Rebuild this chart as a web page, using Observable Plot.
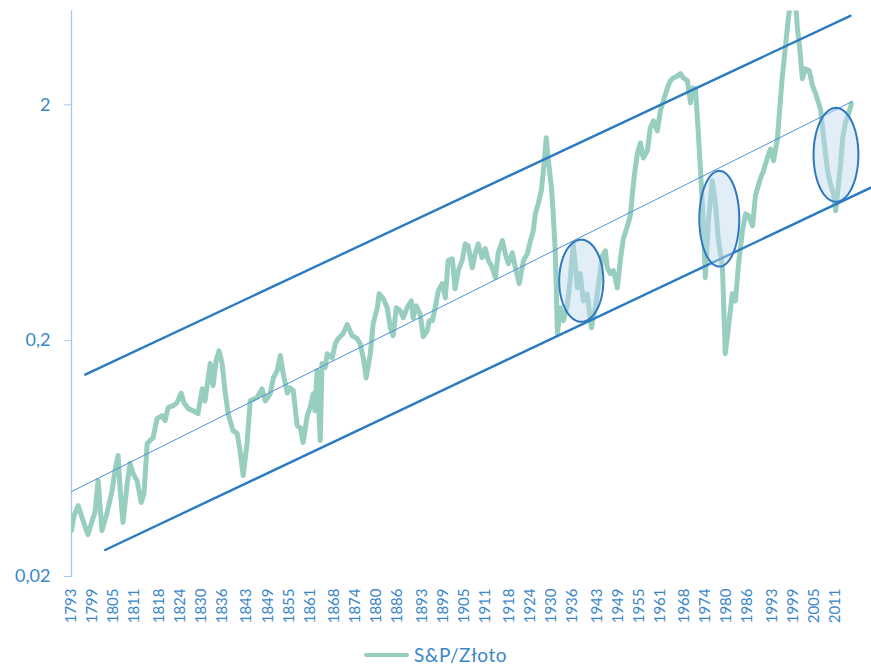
<!DOCTYPE html>
<html>
<head>
<meta charset="utf-8">
<script src="https://cdn.jsdelivr.net/npm/d3@7"></script>
<script src="https://cdn.jsdelivr.net/npm/@observablehq/plot@0.6"></script>
<style>
  html, body { margin: 0; padding: 0; background: #fff; }
  body { width: 871px; height: 667px; overflow: hidden; font-family: Lato, "Noto Sans", sans-serif; }
  #legend { height: 27px; display: flex; justify-content: center; align-items: center; padding-top: 3px; box-sizing: border-box; }
  #legend .sw { display: inline-block; width: 45px; height: 4px; background: #97cebf; margin-right: 5px; border-radius: 2px; }
  #legend .lbl { display: inline-block; color: #3a86c8; font-size: 19px; line-height: 20px; height: 20px; letter-spacing: 0.5px; }
</style>
</head>
<body>
<div id="chart"></div>
<div id="legend"><span class="sw"></span><span class="lbl">S&amp;P/Złoto</span></div>
<script>
// S&P / gold ratio
const years = [
  1793.0,1793.7,1794.9,1796.3,1797.7,1798.9,1799.7,1800.6,1801.7,1803.1,
  1804.6,1805.4,1806.3,1806.9,1807.7,1808.9,1809.7,1810.6,1811.7,1812.9,
  1813.7,1814.6,1815.4,1816.3,1817.4,1818.9,1819.7,1820.6,1822.0,1823.1,
  1824.3,1825.1,1826.3,1827.7,1829.1,1830.3,1831.1,1832.6,1833.4,1834.3,
  1835.1,1836.0,1836.8,1837.7,1839.1,1840.3,1841.1,1842.0,1843.1,1844.0,
  1846.0,1847.4,1848.3,1849.7,1850.6,1851.7,1852.6,1853.4,1854.6,1855.4,
  1856.3,1857.4,1858.3,1859.1,1860.3,1861.1,1862.0,1862.5,1863.1,1864.0,
  1864.5,1865.4,1866.0,1867.4,1868.3,1869.1,1870.5,1871.7,1873.1,1874.5,
  1875.4,1876.3,1877.1,1878.3,1879.1,1880.3,1880.8,1882.0,1883.1,1884.0,
  1884.8,1885.7,1886.8,1887.7,1888.8,1890.0,1890.5,1891.4,1892.5,1893.4,
  1894.5,1895.1,
  1896.0,1896.8,1897.7,1898.8,1899.7,1900.5,1901.7,1902.5,
  1903.4,1904.5,1905.4,1906.2,1907.4,1908.2,1909.1,1910.2,1911.1,1912.0,
  1913.1,1914.0,1914.8,1916.0,1916.8,1917.7,1918.8,1919.7,1920.8,1922.0,
  1923.1,1924.0,1924.8,1925.4,1926.2,1927.1,1927.7,1928.5,1929.1,1930.0,
  1930.5,1931.1,1931.7,1932.5,1933.4,1934.5,1935.4,1936.2,1937.4,1938.2,
  1939.1,1940.2,1941.4,1942.5,1943.4,1944.5,1945.4,1945.9,1946.8,1947.7,
  1948.8,1949.7,1950.5,1951.7,1952.5,1953.1,1953.7,1954.5,1955.4,1956.2,
  1957.4,1958.2,1959.1,1960.2,1961.1,1961.9,1963.1,1963.9,1964.8,1965.9,
  1966.8,1967.7,1968.8,1969.7,1970.2,1971.1,1971.7,1972.5,1973.4,1973.9,
  1974.8,1975.9,1976.8,1977.6,1978.8,1979.6,1980.5,1981.6,1982.5,1983.4,
  1984.5,1985.4,1986.2,1987.4,1988.2,1989.6,1990.5,1991.6,1992.5,1993.4,
  1994.5,1995.1,1995.9,1996.8,1997.6,1998.2,1999.4,1999.9,2000.2,2000.8,
  2001.6,2002.5,2003.6,2004.5,2005.4,2006.2,2006.8,2007.6,2008.8,2009.6,
  2010.5,2011.1,2011.6,2012.5,2013.1,2013.9,2014.8,2015.6
];
const ratio = [
  0.0313,0.0362,0.040,0.0345,0.0301,0.0345,0.0373,0.0510,0.0313,0.0370,
  0.0463,0.0562,0.0652,0.0463,0.0339,0.0495,0.0603,0.0546,0.0510,0.0412,
  0.0450,0.0733,0.0754,0.0776,0.0934,0.0962,0.0916,0.104,0.106,0.109,
  0.120,0.109,0.103,0.101,0.0981,0.125,0.111,0.160,0.129,0.165,
  0.181,0.160,0.123,0.0981,0.0831,0.0807,0.0684,0.0536,0.0733,0.111,
  0.115,0.125,0.111,0.119,0.139,0.149,0.173,0.146,0.120,0.126,
  0.123,0.0873,0.0856,0.0740,0.0962,0.104,0.119,0.101,0.149,0.0754,
  0.160,0.154,0.176,0.169,0.194,0.204,0.214,0.234,0.210,0.204,
  0.194,0.169,0.139,0.176,0.236,0.276,0.316,0.301,0.276,0.227,
  0.210,0.276,0.268,0.250,0.276,0.295,0.250,0.281,0.260,0.208,
  0.220,0.243,
  0.243,0.276,0.326,0.349,0.304,0.437,0.445,0.332,
  0.396,0.437,0.515,0.505,0.408,0.467,0.515,0.450,0.491,0.437,
  0.408,0.370,0.472,0.531,0.467,0.424,0.472,0.408,0.349,0.437,
  0.467,0.531,0.585,0.690,0.761,0.864,1.05,1.45,1.16,0.890,
  0.690,0.467,0.214,0.276,0.243,0.281,0.370,0.515,0.335,0.385,
  0.295,0.316,0.227,0.276,0.342,0.458,0.481,0.408,0.385,0.396,
  0.335,0.445,0.541,0.614,0.678,0.840,1.02,1.24,1.38,1.19,
  1.28,1.60,1.71,1.55,1.89,2.08,2.36,2.53,2.60,2.65,
  2.71,2.60,2.53,2.04,2.36,2.34,1.71,1.08,0.602,0.370,
  0.645,0.953,0.761,0.541,0.408,0.176,0.227,0.316,0.295,0.424,
  0.585,0.690,0.678,0.614,0.823,0.972,1.05,1.19,1.30,1.16,
  1.44,1.89,2.65,3.56,4.63,5.4,5.6,4.9,4.20,3.56,
  2.58,2.84,2.79,2.41,2.23,2.04,1.92,1.48,1.05,0.925,
  0.840,0.711,0.823,1.12,1.44,1.68,1.83,2.02
];

// Axis ticks
const xTickYears = [1793,1799,1805,1811,1818,1824,1830,1836,1843,1849,1855,1861,1868,1874,
  1880,1886,1893,1899,1905,1911,1918,1924,1930,1936,1943,1949,1955,1961,1968,1974,1980,
  1986,1993,1999,2005,2011];
const yTickValues = [0.02, 0.2, 2];

// Trend channel (upper, middle, lower) endpoints
const channelNames = ["upper", "middle", "lower"];
const channelStartYear = [1796.9, 1793.0, 1802.6];
const channelStartValue = [0.1436, 0.0458, 0.0259];
const channelEndYear = [2015.3, 2015.9, 2021.3];
const channelEndValue = [4.77, 2.07, 0.893];

// Highlight ellipses (center and half-extents in data units)
const ellipseCenterYear = [1938.5, 1977.9, 2011.2];
const ellipseCenterValue = [0.359, 0.658, 1.228];
const ellipseHalfYears = [6.3, 5.7, 6.4];
const ellipseHalfDecades = [0.174, 0.203, 0.199];

const series = years.map((y, i) => ({year: y, value: ratio[i]}));
const channel = channelNames.flatMap((n, i) => [
  {name: n, year: channelStartYear[i], value: channelStartValue[i]},
  {name: n, year: channelEndYear[i], value: channelEndValue[i]}
]);
const ellipses = ellipseCenterYear.flatMap((cy, i) =>
  d3.range(0, 97).map(k => {
    const t = (k / 96) * 2 * Math.PI;
    return {id: i, year: cy + ellipseHalfYears[i] * Math.cos(t),
            value: ellipseCenterValue[i] * Math.pow(10, ellipseHalfDecades[i] * Math.sin(t))};
  })
);

const blueText = "#3a86c8";
const chart = Plot.plot({
  width: 871,
  height: 640,
  marginLeft: 71,
  marginRight: 0,
  marginTop: 10.5,
  marginBottom: 64,
  style: {fontFamily: 'Lato, "Noto Sans", sans-serif', fontSize: "15px", background: "#fff", overflow: "visible"},
  x: {domain: [1793, 2021.34], axis: null},
  y: {type: "log", domain: [0.02, 5], axis: null},
  marks: [
    Plot.frame({anchor: "left", stroke: "#a9c7ea", strokeWidth: 1.3}),
    Plot.axisY({ticks: yTickValues, tickSize: 7, tickPadding: 14,
      tickFormat: d => String(d).replace(".", ","),
      stroke: "#a9c7ea", fill: blueText, fontSize: 18, label: null}),
    Plot.axisX({ticks: xTickYears, tickSize: 0, tickPadding: 12, tickRotate: -90,
      tickFormat: d => String(d), fill: blueText, fontSize: 15, label: null}),
    Plot.line(series, {x: "year", y: "value", stroke: "#97cebf", strokeWidth: 5,
      strokeLinejoin: "round", strokeLinecap: "round", clip: true}),
    Plot.line(channel.filter(d => d.name !== "middle"), {x: "year", y: "value", z: "name",
      stroke: "#2a7bc4", strokeWidth: 2.4, clip: true}),
    Plot.line(channel.filter(d => d.name === "middle"), {x: "year", y: "value",
      stroke: "#4a8fd0", strokeWidth: 1, clip: true}),
    Plot.line(ellipses, {x: "year", y: "value", z: "id", fill: "#bdd7ee", fillOpacity: 0.45,
      stroke: "#2e78c0", strokeWidth: 2, curve: "linear"})
  ]
});
document.getElementById("chart").appendChild(chart);
</script>
</body>
</html>
